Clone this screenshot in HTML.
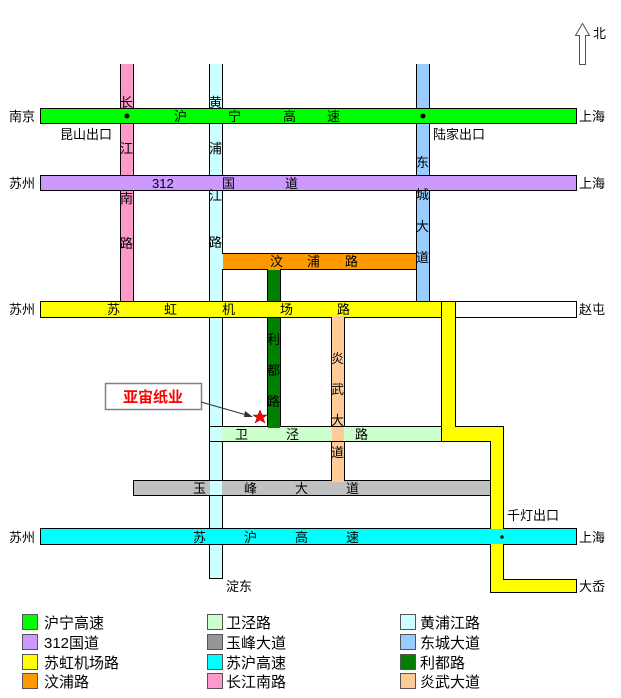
<!DOCTYPE html>
<html><head><meta charset="utf-8"><style>
body{margin:0;background:#fff}
svg{display:block}
text{font-family:"Liberation Sans","Noto Sans CJK SC","WenQuanYi Zen Hei",sans-serif;font-size:13px;fill:#000}
.lg{font-size:15px}
</style></head><body>
<svg width="621" height="698" viewBox="0 0 621 698" xmlns="http://www.w3.org/2000/svg">
<g stroke="#000" stroke-width="1">
<rect x="120.5" y="64.5" width="13" height="237" fill="#ff99cc"/>
<rect x="209.5" y="64.5" width="13" height="514" fill="#ccffff"/>
<rect x="416.5" y="64.5" width="13" height="237" fill="#99ccff"/>
<rect x="267.5" y="268.5" width="13" height="158" fill="#008000"/>
<rect x="331.5" y="316.5" width="13" height="164" fill="#ffcc99"/>
<rect x="40.5" y="108.5" width="536" height="15" fill="#00ff00"/>
<rect x="40.5" y="175.5" width="536" height="15" fill="#cc99ff"/>
<rect x="222.5" y="253.5" width="194" height="16" fill="#ff9900"/>
<rect x="40.5" y="301.5" width="536" height="16" fill="#fff"/>
<rect x="40.5" y="301.5" width="415" height="16" fill="#ffff00"/>
<rect x="441.5" y="301.5" width="14" height="140" fill="#ffff00"/>
<rect x="441.5" y="426.5" width="62" height="15" fill="#ffff00"/>
<rect x="490.5" y="426.5" width="13" height="166" fill="#ffff00"/>
<rect x="490.5" y="579.5" width="86" height="13" fill="#ffff00"/>
<rect x="209.5" y="426.5" width="232" height="15" fill="#ccffcc"/>
<rect x="133.5" y="480.5" width="357" height="15" fill="#c0c0c0"/>
<rect x="40.5" y="528.5" width="536" height="16" fill="#00ffff"/>
</g>
<g stroke="none">
<rect x="121" y="64" width="12" height="1" fill="#ff99cc"/>
<rect x="210" y="64" width="12" height="1" fill="#ccffff"/>
<rect x="417" y="64" width="12" height="1" fill="#99ccff"/>
<rect x="121" y="109" width="12" height="14" fill="#00ff00"/>
<rect x="210" y="109" width="12" height="14" fill="#00ff00"/>
<rect x="417" y="109" width="12" height="14" fill="#00ff00"/>
<rect x="121" y="176" width="12" height="14" fill="#cc99ff"/>
<rect x="210" y="176" width="12" height="14" fill="#cc99ff"/>
<rect x="417" y="176" width="12" height="14" fill="#cc99ff"/>
<rect x="210" y="254" width="13" height="15" fill="#ccffff"/>
<rect x="268" y="254" width="12" height="16" fill="#ff9900"/>
<rect x="210" y="302" width="12" height="15" fill="#ffff00"/>
<rect x="268" y="302" width="12" height="15" fill="#ffff00"/>
<rect x="417" y="302" width="12" height="15" fill="#ffff00"/>
<rect x="332" y="316" width="12" height="2" fill="#ffcc99"/>
<rect x="442" y="302" width="13" height="139" fill="#ffff00"/>
<rect x="442" y="427" width="61" height="14" fill="#ffff00"/>
<rect x="491" y="427" width="12" height="165" fill="#ffff00"/>
<rect x="491" y="580" width="85" height="12" fill="#ffff00"/>
<rect x="210" y="427" width="12" height="14" fill="#ccffff"/>
<rect x="268" y="426" width="12" height="2" fill="#008000"/>
<rect x="332" y="427" width="12" height="14" fill="#ffcc99"/>
<rect x="210" y="481" width="12" height="14" fill="#ccffff"/>
<rect x="332" y="480" width="12" height="2" fill="#ffcc99"/>
<rect x="491" y="481" width="12" height="14" fill="#ffff00"/>
<rect x="210" y="529" width="12" height="15" fill="#00ffff"/>
<rect x="491" y="529" width="12" height="15" fill="#00ffff"/>
</g>
<circle cx="127" cy="116" r="2.5" fill="#000"/>
<circle cx="423" cy="116" r="2.5" fill="#000"/>
<circle cx="502" cy="537" r="1.8" fill="#000"/>
<path d="M582.5 23.5 L589.5 35.5 L585.5 35.5 L585.5 64.5 L579.5 64.5 L579.5 35.5 L575.5 35.5 Z" fill="#fff" stroke="#555"/>
<text x="593" y="38">北</text>
<text x="9" y="121">南京</text>
<text x="9" y="188">苏州</text>
<text x="9" y="314">苏州</text>
<text x="9" y="542">苏州</text>
<text x="579" y="121">上海</text>
<text x="579" y="188">上海</text>
<text x="579" y="314">赵屯</text>
<text x="579" y="542">上海</text>
<text x="579" y="591">大岙</text>
<text x="60" y="139">昆山出口</text>
<text x="433" y="139">陆家出口</text>
<text x="507" y="520">千灯出口</text>
<text x="226" y="591">淀东</text>
<text x="174" y="121">沪</text><text x="228" y="121">宁</text><text x="283" y="121">高</text><text x="327" y="121">速</text>
<text x="152" y="188">312</text><text x="222" y="188">国</text><text x="285" y="188">道</text>
<text x="120" y="107">长</text><text x="120" y="153">江</text><text x="120" y="203">南</text><text x="120" y="248">路</text>
<text x="209" y="107">黄</text><text x="209" y="153">浦</text><text x="209" y="200">江</text><text x="209" y="247">路</text>
<text x="416" y="167">东</text><text x="416" y="199">城</text><text x="416" y="231">大</text><text x="416" y="262">道</text>
<text x="270" y="266">汶</text><text x="307" y="266">浦</text><text x="345" y="266">路</text>
<text x="107" y="314">苏</text><text x="164" y="314">虹</text><text x="222" y="314">机</text><text x="280" y="314">场</text><text x="337" y="314">路</text>
<text x="267" y="344">利</text><text x="267" y="375">都</text><text x="267" y="406">路</text>
<text x="331" y="363">炎</text><text x="331" y="394">武</text><text x="331" y="425">大</text><text x="331" y="457">道</text>
<text x="235" y="439">卫</text><text x="286" y="439">泾</text><text x="355" y="439">路</text>
<text x="193" y="493">玉</text><text x="244" y="493">峰</text><text x="295" y="493">大</text><text x="346" y="493">道</text>
<text x="193" y="542">苏</text><text x="244" y="542">沪</text><text x="295" y="542">高</text><text x="346" y="542">速</text>
<rect x="105.5" y="383.5" width="96" height="26" fill="#fff" stroke="#808080" stroke-width="1.5"/>
<text x="153" y="402" text-anchor="middle" style="font-size:15px;font-weight:bold;fill:#ff0000">亚宙纸业</text>
<line x1="201" y1="402" x2="250" y2="416" stroke="#333" stroke-width="1"/>
<path d="M253 417 L245 411 L244 417 Z" fill="#333"/>
<path d="M260 410 L262 415 L267 415 L263 418 L265 423 L260 420 L255 423 L257 418 L253 415 L258 415 Z" fill="#ff0000" stroke="#800" stroke-width="0.5"/>
<g stroke="#555" stroke-width="1">
<rect x="22.5" y="614.5" width="15" height="15" fill="#00ff00"/>
<rect x="22.5" y="634.5" width="15" height="15" fill="#cc99ff"/>
<rect x="22.5" y="654.5" width="15" height="15" fill="#ffff00"/>
<rect x="22.5" y="673.5" width="15" height="15" fill="#ff9900"/>
<rect x="207.5" y="614.5" width="15" height="15" fill="#ccffcc"/>
<rect x="207.5" y="634.5" width="15" height="15" fill="#969696"/>
<rect x="207.5" y="654.5" width="15" height="15" fill="#00ffff"/>
<rect x="207.5" y="673.5" width="15" height="15" fill="#ff99cc"/>
<rect x="400.5" y="614.5" width="15" height="15" fill="#ccffff"/>
<rect x="400.5" y="634.5" width="15" height="15" fill="#99ccff"/>
<rect x="400.5" y="654.5" width="15" height="15" fill="#008000"/>
<rect x="400.5" y="673.5" width="15" height="15" fill="#ffcc99"/>
</g>
<text class="lg" x="44" y="628">沪宁高速</text>
<text class="lg" x="44" y="648">312国道</text>
<text class="lg" x="44" y="668">苏虹机场路</text>
<text class="lg" x="44" y="687">汶浦路</text>
<text class="lg" x="226" y="628">卫泾路</text>
<text class="lg" x="226" y="648">玉峰大道</text>
<text class="lg" x="226" y="668">苏沪高速</text>
<text class="lg" x="226" y="687">长江南路</text>
<text class="lg" x="420" y="628">黄浦江路</text>
<text class="lg" x="420" y="648">东城大道</text>
<text class="lg" x="420" y="668">利都路</text>
<text class="lg" x="420" y="687">炎武大道</text>
</svg>
</body></html>
